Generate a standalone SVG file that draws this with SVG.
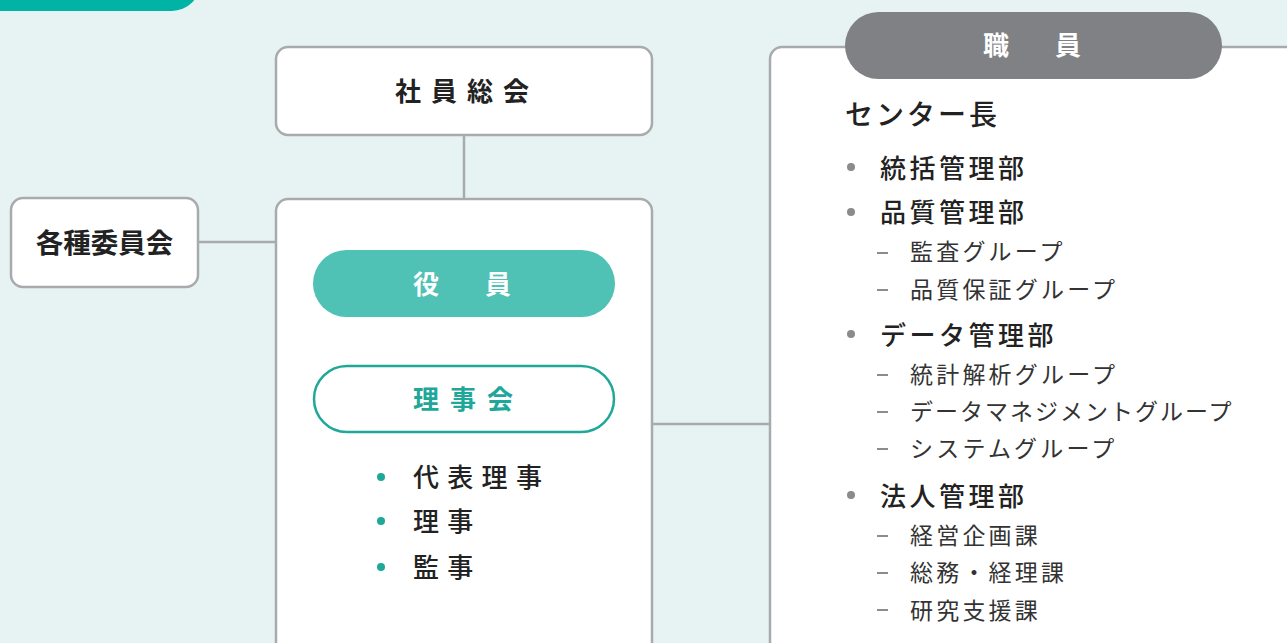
<svg xmlns="http://www.w3.org/2000/svg" width="1287" height="643" viewBox="0 0 1287 643">
<style>
text{font-family:"Noto Sans CJK JP","Noto Sans",sans-serif;}
.box{fill:#fff;stroke:#A9AAAD;stroke-width:2.5;}
.conn{stroke:#A9AAAD;stroke-width:2.5;fill:none;}
.title{font-weight:700;font-size:26px;fill:#222;letter-spacing:10px;}
.mem{font-weight:500;font-size:26px;fill:#222;letter-spacing:8.3px;}
.dept{font-weight:500;font-size:26px;fill:#222;letter-spacing:3.5px;}
.sub{font-weight:400;font-size:23px;fill:#333;letter-spacing:3.2px;}
.dot{fill:#8A8B8E;}
.tdot{fill:#1FA89A;}
.dash{stroke:#666;stroke-width:1.5;}
</style>
<rect x="0" y="0" width="1287" height="643" fill="#E7F3F3"/>
<rect x="-40" y="-60" width="240" height="71" rx="28" fill="#00B3A5"/>
<g id="connectors">
<line class="conn" x1="464" y1="135" x2="464" y2="199"/>
<line class="conn" x1="198" y1="242" x2="276" y2="242"/>
<line class="conn" x1="652" y1="424" x2="770" y2="424"/>
</g>
<g id="shainsoukai">
<rect class="box" x="276" y="47" width="376" height="88" rx="12"/>
<text class="title" x="395" y="101">社員総会</text>
</g>
<g id="kakushu">
<rect class="box" x="11" y="198" width="187" height="89" rx="12"/>
<text x="104.5" y="253" text-anchor="middle" font-weight="700" font-size="27.5" fill="#222">各種委員会</text>
</g>
<g id="yakuin">
<rect class="box" x="276" y="199" width="376" height="500" rx="12"/>
<rect x="313" y="250" width="302" height="67" rx="33.5" fill="#4FC1B5"/>
<text class="title" x="413" y="294" style="fill:#fff">役　員</text>
<rect x="314" y="366" width="300" height="66" rx="33" fill="#fff" stroke="#1FA89A" stroke-width="2.5"/>
<text class="title" x="413" y="409" style="fill:#1FA89A;letter-spacing:11px">理事会</text>
<circle class="tdot" cx="381" cy="477" r="4"/>
<text class="mem" x="413" y="487">代表理事</text>
<circle class="tdot" cx="381" cy="521" r="4"/>
<text class="mem" x="413" y="531">理事</text>
<circle class="tdot" cx="381" cy="567" r="4"/>
<text class="mem" x="413" y="577">監事</text>
</g>
<g id="shokuin">
<rect class="box" x="770" y="47" width="560" height="660" rx="12"/>
<rect x="845" y="12" width="377" height="67" rx="33.5" fill="#808184"/>
<text class="title" x="983" y="55" style="fill:#fff">職　員</text>
<text x="845" y="125" font-weight="500" font-size="28" fill="#222" letter-spacing="3">センター長</text>
<circle class="dot" cx="851" cy="167" r="4"/>
<text class="dept" x="880" y="178">統括管理部</text>
<circle class="dot" cx="851" cy="212" r="4"/>
<text class="dept" x="880" y="222">品質管理部</text>
<line class="dash" x1="877" y1="253" x2="888" y2="253"/>
<text class="sub" x="910" y="260">監査グループ</text>
<line class="dash" x1="877" y1="290" x2="888" y2="290"/>
<text class="sub" x="910" y="298">品質保証グループ</text>
<circle class="dot" cx="851" cy="334" r="4"/>
<text class="dept" x="880" y="345">データ管理部</text>
<line class="dash" x1="877" y1="375" x2="888" y2="375"/>
<text class="sub" x="910" y="383">統計解析グループ</text>
<line class="dash" x1="877" y1="412" x2="888" y2="412"/>
<text class="sub" x="910" y="420" style="letter-spacing:2px">データマネジメントグループ</text>
<line class="dash" x1="877" y1="449" x2="888" y2="449"/>
<text class="sub" x="910" y="457">システムグループ</text>
<circle class="dot" cx="851" cy="495" r="4"/>
<text class="dept" x="880" y="506">法人管理部</text>
<line class="dash" x1="877" y1="536" x2="888" y2="536"/>
<text class="sub" x="910" y="544">経営企画課</text>
<line class="dash" x1="877" y1="573" x2="888" y2="573"/>
<text class="sub" x="910" y="581">総務・経理課</text>
<line class="dash" x1="877" y1="610" x2="888" y2="610"/>
<text class="sub" x="910" y="619">研究支援課</text>
</g>
</svg>
